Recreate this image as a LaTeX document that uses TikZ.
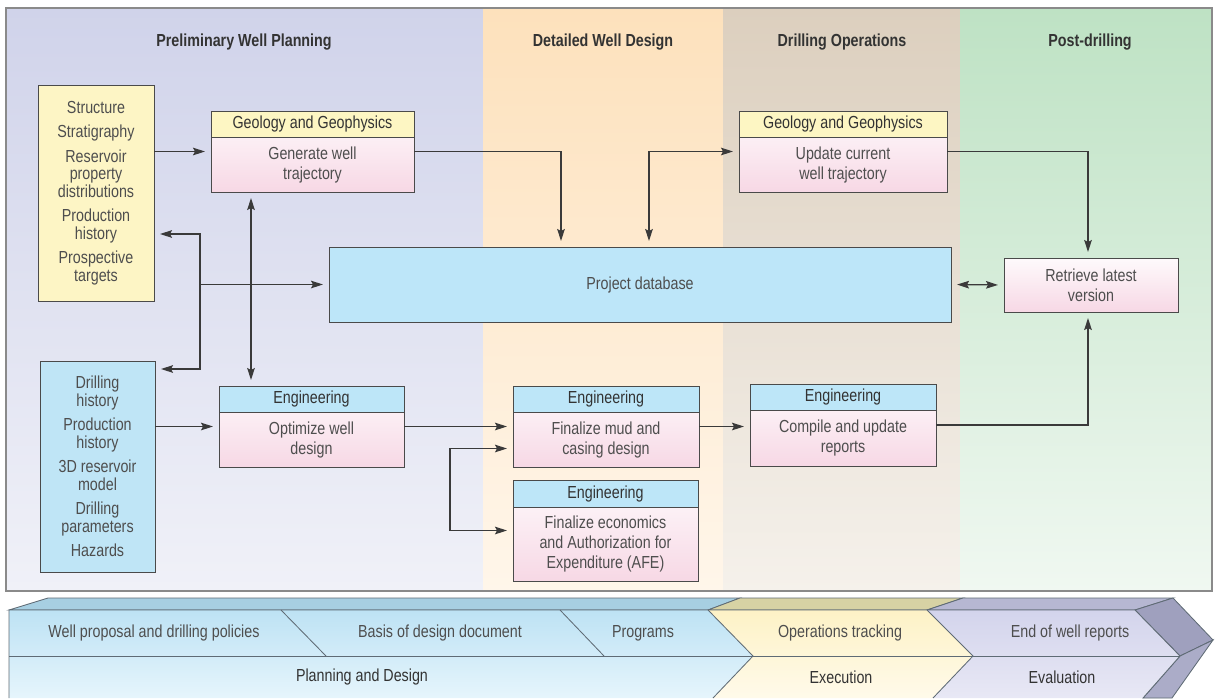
\documentclass[tikz,border=0pt]{standalone}
\usepackage{fontspec}
\setmainfont{Liberation Sans}[FakeStretch=0.82]
\usepackage{tikz}
\usetikzlibrary{positioning,calc,arrows.meta}
\definecolor{PlanTop}{HTML}{D0D3EA}
\definecolor{PlanBot}{HTML}{F0F1F8}
\definecolor{DesignTop}{HTML}{FDE1BC}
\definecolor{DesignBot}{HTML}{FFF6EA}
\definecolor{DrillTop}{HTML}{DCCFBE}
\definecolor{DrillBot}{HTML}{F5F1EB}
\definecolor{PostTop}{HTML}{BEE2C4}
\definecolor{PostBot}{HTML}{F0F8F1}
\definecolor{FrameGrey}{HTML}{8A8A8A}
\definecolor{BoxLine}{HTML}{4A4A4A}
\definecolor{LineDark}{HTML}{3A3A3A}
\definecolor{TextDark}{HTML}{333333}
\definecolor{TextGrey}{HTML}{4E4E4E}
\definecolor{ListYellow}{HTML}{FDF5C5}
\definecolor{ListBlue}{HTML}{BFE5F6}
\definecolor{HeadYellow}{HTML}{FDF6C3}
\definecolor{HeadBlue}{HTML}{BDE6F8}
\definecolor{DbBlue}{HTML}{BDE6F9}
\definecolor{BodyTop}{HTML}{FEFAFC}
\definecolor{BodyBottom}{HTML}{F7D8E5}
\definecolor{BannerLine}{HTML}{5F6B75}
\definecolor{PlanFront}{HTML}{BDE2F4}
\definecolor{PlanFrontBot}{HTML}{E6F5FC}
\definecolor{ExecFront}{HTML}{FDF2C6}
\definecolor{ExecFrontBot}{HTML}{FFFAEA}
\definecolor{EvalFront}{HTML}{D3D4EC}
\definecolor{EvalFrontBot}{HTML}{E8E8F5}
\definecolor{PlanFace}{HTML}{A7CFE2}
\definecolor{ExecFace}{HTML}{D7D2A4}
\definecolor{EvalFace}{HTML}{B6B7D2}
\definecolor{EndUpper}{HTML}{9FA0BE}
\definecolor{EndLower}{HTML}{ABACC8}

\newcommand{\px}{0.025cm}
\newcommand{\bodyfont}{\fontsize{12.4}{14.2}\selectfont}
\newcommand{\listfont}{\fontsize{12.4}{12.4}\selectfont}

\tikzset{
  box/.style={draw=BoxLine, line width=0.7pt, inner sep=0pt, outer sep=0pt},
  listbox/.style={box, align=center, font=\listfont, text=TextGrey},
  taskbox/.style={box, top color=BodyTop, bottom color=BodyBottom},
  head/.style={box, fill=#1, anchor=north, minimum height=26*\px,
    font=\bodyfont, text=TextDark},
  bodytext/.style={align=center, font=\bodyfont, text=TextGrey, inner sep=0pt},
  title/.style={font=\bodyfont\bfseries, text=TextDark},
  arr/.style={draw=LineDark, line width=0.9pt,
    -{Stealth[length=3mm,width=1.9mm,inset=0.5mm]}, shorten >=6*\px},
  dbl/.style={arr, {Stealth[length=3mm,width=1.9mm,inset=0.5mm]}-{Stealth[length=3mm,width=1.9mm,inset=0.5mm]},
    shorten <=6*\px},
  banner/.style={draw=BannerLine, line width=0.6pt},
  bannertext/.style={font=\bodyfont, text=TextGrey}
}

\begin{document}
\begin{tikzpicture}[x=0.025cm, y=-0.025cm]
  \useasboundingbox (0,0) rectangle (1215,698);

  % phase bands
  \shade[top color=PlanTop, bottom color=PlanBot] (6,8) rectangle (483,591);
  \shade[top color=DesignTop, bottom color=DesignBot] (483,8) rectangle (723,591);
  \shade[top color=DrillTop, bottom color=DrillBot] (723,8) rectangle (960,591);
  \shade[top color=PostTop, bottom color=PostBot] (960,8) rectangle (1212,591);
  \draw[FrameGrey, line width=0.8pt] (6,8) rectangle (1212,591);

  \node[title] (tplan) at (244,42) {Preliminary Well Planning};
  \node[title] (tdesign) at (603,42) {Detailed Well Design};
  \node[title] (tdrill) at (842,42) {Drilling Operations};
  \node[title] (tpost) at (1090,42) {Post-drilling};

  % input lists
  \node[listbox, fill=ListYellow, minimum width=116*\px, minimum height=216*\px] (geo) at (96,193)
    {Structure\\[5pt]Stratigraphy\\[5pt]Reservoir\\property\\distributions\\[5pt]Production\\history\\[5pt]Prospective\\targets};
  \node[listbox, fill=ListBlue, minimum width=115*\px, minimum height=211*\px] (inp) at (97.5,466.5)
    {Drilling\\history\\[5pt]Production\\history\\[5pt]3D reservoir\\model\\[5pt]Drilling\\parameters\\[5pt]Hazards};

  % database and retrieval
  \node[box, fill=DbBlue, minimum width=622*\px, minimum height=75*\px, font=\bodyfont, text=TextGrey] (pd) at (640,284.5) {Project database};
  \node[taskbox, minimum width=174*\px, minimum height=54*\px, align=center, font=\bodyfont, text=TextGrey] (ret) at (1091,285) {Retrieve latest\\version};

  % geology and geophysics tasks
  \node[taskbox, minimum width=203*\px, minimum height=81*\px] (gg1) at (312.5,151.5) {};
  \node[head=HeadYellow, minimum width=203*\px] (gg1h) at (gg1.north) {Geology and Geophysics};
  \node[bodytext, minimum height=55*\px, below=0pt of gg1h] (gg1t) {Generate well\\trajectory};

  \node[taskbox, minimum width=208*\px, minimum height=81*\px] (gg2) at (843,151.5) {};
  \node[head=HeadYellow, minimum width=208*\px] (gg2h) at (gg2.north) {Geology and Geophysics};
  \node[bodytext, minimum height=55*\px, below=0pt of gg2h] (gg2t) {Update current\\well trajectory};

  % engineering tasks
  \node[taskbox, minimum width=185*\px, minimum height=81*\px] (opt) at (311.5,426.5) {};
  \node[head=HeadBlue, minimum width=185*\px] (opth) at (opt.north) {Engineering};
  \node[bodytext, minimum height=55*\px, below=0pt of opth] (optt) {Optimize well\\design};

  \node[taskbox, minimum width=186*\px, minimum height=81*\px] (mud) at (606,426.5) {};
  \node[head=HeadBlue, minimum width=186*\px] (mudh) at (mud.north) {Engineering};
  \node[bodytext, minimum height=55*\px, below=0pt of mudh] (mudt) {Finalize mud and\\casing design};

  \node[taskbox, minimum width=185*\px, minimum height=101*\px] (eco) at (605.5,530.5) {};
  \node[head=HeadBlue, minimum width=185*\px, minimum height=27*\px] (ecoh) at (eco.north) {Engineering};
  \node[bodytext, minimum height=74*\px, below=0pt of ecoh] (ecot) {Finalize economics\\and Authorization for\\Expenditure (AFE)};

  \node[taskbox, minimum width=186*\px, minimum height=82*\px] (comp) at (843,425) {};
  \node[head=HeadBlue, minimum width=186*\px] (comph) at (comp.north) {Engineering};
  \node[bodytext, minimum height=56*\px, below=0pt of comph] (compt) {Compile and update\\reports};

  % connectors
  \draw[arr] (geo.east |- gg1.west) -- (gg1.west);
  \draw[arr] (gg1.east) -| ($(pd.north west)+(232,0)$);
  \draw[dbl] ($(gg1.south west)+(40,0)$) coordinate (v1) -- (v1 |- opt.north);
  \coordinate (jn) at ($(pd.west)+(-129,0)$);
  \draw[arr] (jn) -- (pd.west);
  \draw[arr] (jn) |- ($(geo.south east)+(0,-67)$);
  \draw[arr] (jn) |- ($(inp.north east)+(0,8)$);
  \draw[arr] (inp.east |- opt.west) -- (opt.west);
  \draw[arr] (opt.east) -- (opt.east -| mud.west);
  \draw[dbl] ($(mud.west)+(0,22)$) -| ($(eco.west)+(-63,0)$) -- (eco.west);
  \draw[arr] (mud.east) -- (mud.east -| comp.west);
  \draw[arr] (comp.east) -| ($(ret.south)+(-3,0)$);
  \draw[arr] (gg2.east) -| ($(ret.north)+(-3,0)$);
  \draw[dbl] (pd.east) -- (ret.west);
  \draw[dbl] ($(pd.north west)+(320,0)$) |- (gg2.west);

  % phase banner
  \filldraw[banner, fill=PlanFace] (9,610) -- (48,598) -- (740,598) -- (708,610) -- cycle;
  \filldraw[banner, fill=ExecFace] (708,610) -- (740,598) -- (963,598) -- (927,610) -- cycle;
  \filldraw[banner, fill=EvalFace] (927,610) -- (963,598) -- (1173,598) -- (1135,610) -- cycle;
  \filldraw[banner, fill=EndUpper] (1135,610) -- (1173,598) -- (1213,640) -- (1180,656) -- cycle;
  \filldraw[banner, fill=EndLower] (1180,656) -- (1213,640) -- (1172,698) -- (1143,698) -- cycle;
  \shade[top color=PlanFront, bottom color=PlanFrontBot] (9,610) -- (708,610) -- (753,656) -- (713,698) -- (9,698) -- cycle;
  \shade[top color=ExecFront, bottom color=ExecFrontBot] (708,610) -- (927,610) -- (973,656) -- (933,698) -- (713,698) -- (753,656) -- cycle;
  \shade[top color=EvalFront, bottom color=EvalFrontBot] (927,610) -- (1135,610) -- (1180,656) -- (1143,698) -- (933,698) -- (973,656) -- cycle;
  \draw[banner] (9,698) -- (9,610) -- (1135,610) -- (1180,656) -- (1143,698);
  \draw[banner] (708,610) -- (753,656) -- (713,698);
  \draw[banner] (927,610) -- (973,656) -- (933,698);
  \draw[banner] (9,656) -- (1180,656);
  \draw[banner] (281,610) -- (326,656);
  \draw[banner] (560,610) -- (604,656);

  \node[bannertext] (wp) at (154,633) {Well proposal and drilling policies};
  \node[bannertext] (bod) at (440,633) {Basis of design document};
  \node[bannertext] (prog) at (643,633) {Programs};
  \node[bannertext] (ops) at (840,633) {Operations tracking};
  \node[bannertext] (eow) at (1070,633) {End of well reports};
  \node[bannertext, text=TextDark] (pld) at (362,677) {Planning and Design};
  \node[bannertext, text=TextDark] (exe) at (841,677) {Execution};
  \node[bannertext, text=TextDark] (eva) at (1062,677) {Evaluation};
\end{tikzpicture}
\end{document}
